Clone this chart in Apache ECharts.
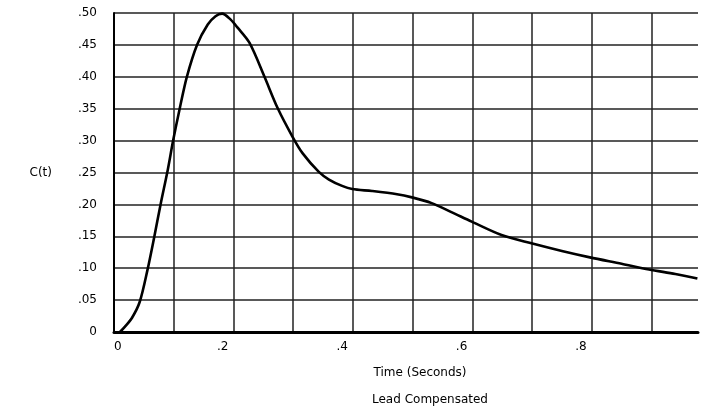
<!DOCTYPE html>
<html>
<head>
<meta charset="utf-8">
<style>
  html, body { margin: 0; padding: 0; background: #fff; }
  #chart { width: 701px; height: 407px; }
</style>
<script src="https://cdn.jsdelivr.net/npm/echarts@6/dist/echarts.min.js"></script>
</head>
<body>
<div id="chart"></div>
<script>
// Time (seconds) and response C(t)
const timeValues = [0.010, 0.018, 0.030, 0.043, 0.056, 0.067, 0.078, 0.090, 0.099, 0.110,
                    0.122, 0.139, 0.157, 0.170, 0.181, 0.195, 0.207, 0.227, 0.252, 0.274,
                    0.299, 0.316, 0.343, 0.360, 0.382, 0.399, 0.432, 0.474, 0.499, 0.532,
                    0.565, 0.599, 0.649, 0.699, 0.750, 0.797, 0.850, 0.896, 0.940, 0.977];
const cValues    = [0.000, 0.008, 0.022, 0.047, 0.097, 0.147, 0.200, 0.254, 0.300, 0.350,
                    0.400, 0.450, 0.482, 0.495, 0.499, 0.490, 0.477, 0.453, 0.400, 0.351,
                    0.306, 0.280, 0.251, 0.239, 0.229, 0.224, 0.221, 0.216, 0.211, 0.202,
                    0.188, 0.173, 0.152, 0.139, 0.127, 0.117, 0.107, 0.098, 0.091, 0.084];

const xTickValues = [0, 0.2, 0.4, 0.6, 0.8];
const xTickLabels = ['0', '.2', '.4', '.6', '.8'];
const yTickLabels = ['0', '.05', '.10', '.15', '.20', '.25', '.30', '.35', '.40', '.45', '.50'];

const xName = 'Time (Seconds)';
const yName = 'C(t)';
const subtitle = 'Lead Compensated';

const FONT = 'DejaVu Sans';
const chart = echarts.init(document.getElementById('chart'), null, { renderer: 'canvas' });

chart.setOption({
  animation: false,
  backgroundColor: '#ffffff',
  title: {
    text: subtitle,
    left: 425,
    top: 389,
    textAlign: 'center',
    textStyle: { fontFamily: FONT, fontSize: 12, fontWeight: 'normal', color: '#000' }
  },
  grid: { left: 114, top: 13, right: 0, bottom: 75, containLabel: false },
  xAxis: {
    type: 'value',
    min: 0,
    max: 0.978,
    interval: 0.1,
    name: xName,
    nameLocation: 'middle',
    nameGap: 35,
    nameTextStyle: { fontFamily: FONT, fontSize: 12, color: '#000', padding: [0, 0, 0, 28] },
    axisLine: { show: true, lineStyle: { color: '#000', width: 3 } },
    axisTick: { show: false },
    splitLine: { show: true, showMaxLine: false, lineStyle: { color: '#222', width: 1.5 } },
    axisLabel: {
      fontFamily: FONT, fontSize: 12, color: '#000',
      margin: 9,
      align: 'right',
      padding: [0, 5, 0, 0],
      alignMinLabel: 'left',
      formatter: function (v) {
        for (let i = 0; i < xTickValues.length; i++) {
          if (Math.abs(v - xTickValues[i]) < 1e-6) return xTickLabels[i];
        }
        return '';
      }
    }
  },
  yAxis: {
    type: 'value',
    min: 0,
    max: 0.5,
    interval: 0.05,
    name: yName,
    nameLocation: 'middle',
    nameRotate: 0,
    nameGap: 62,
    nameTextStyle: { fontFamily: FONT, fontSize: 12, color: '#000', padding: [0, 0, 11, 0] },
    axisLine: { show: true, lineStyle: { color: '#000', width: 2 } },
    axisTick: { show: false },
    splitLine: { show: true, lineStyle: { color: '#222', width: 1.5 } },
    axisLabel: {
      fontFamily: FONT, fontSize: 12, color: '#000',
      margin: 17,
      formatter: function (v) {
        const idx = Math.round(v / 0.05);
        return (Math.abs(v - idx * 0.05) < 1e-6 && yTickLabels[idx] !== undefined) ? yTickLabels[idx] : '';
      }
    }
  },
  series: [{
    type: 'line',
    data: timeValues.map((t, i) => [t, cValues[i]]),
    showSymbol: false,
    smooth: 0.3,
    lineStyle: { color: '#000', width: 2.6 },
    clip: true
  }]
});
</script>
</body>
</html>
